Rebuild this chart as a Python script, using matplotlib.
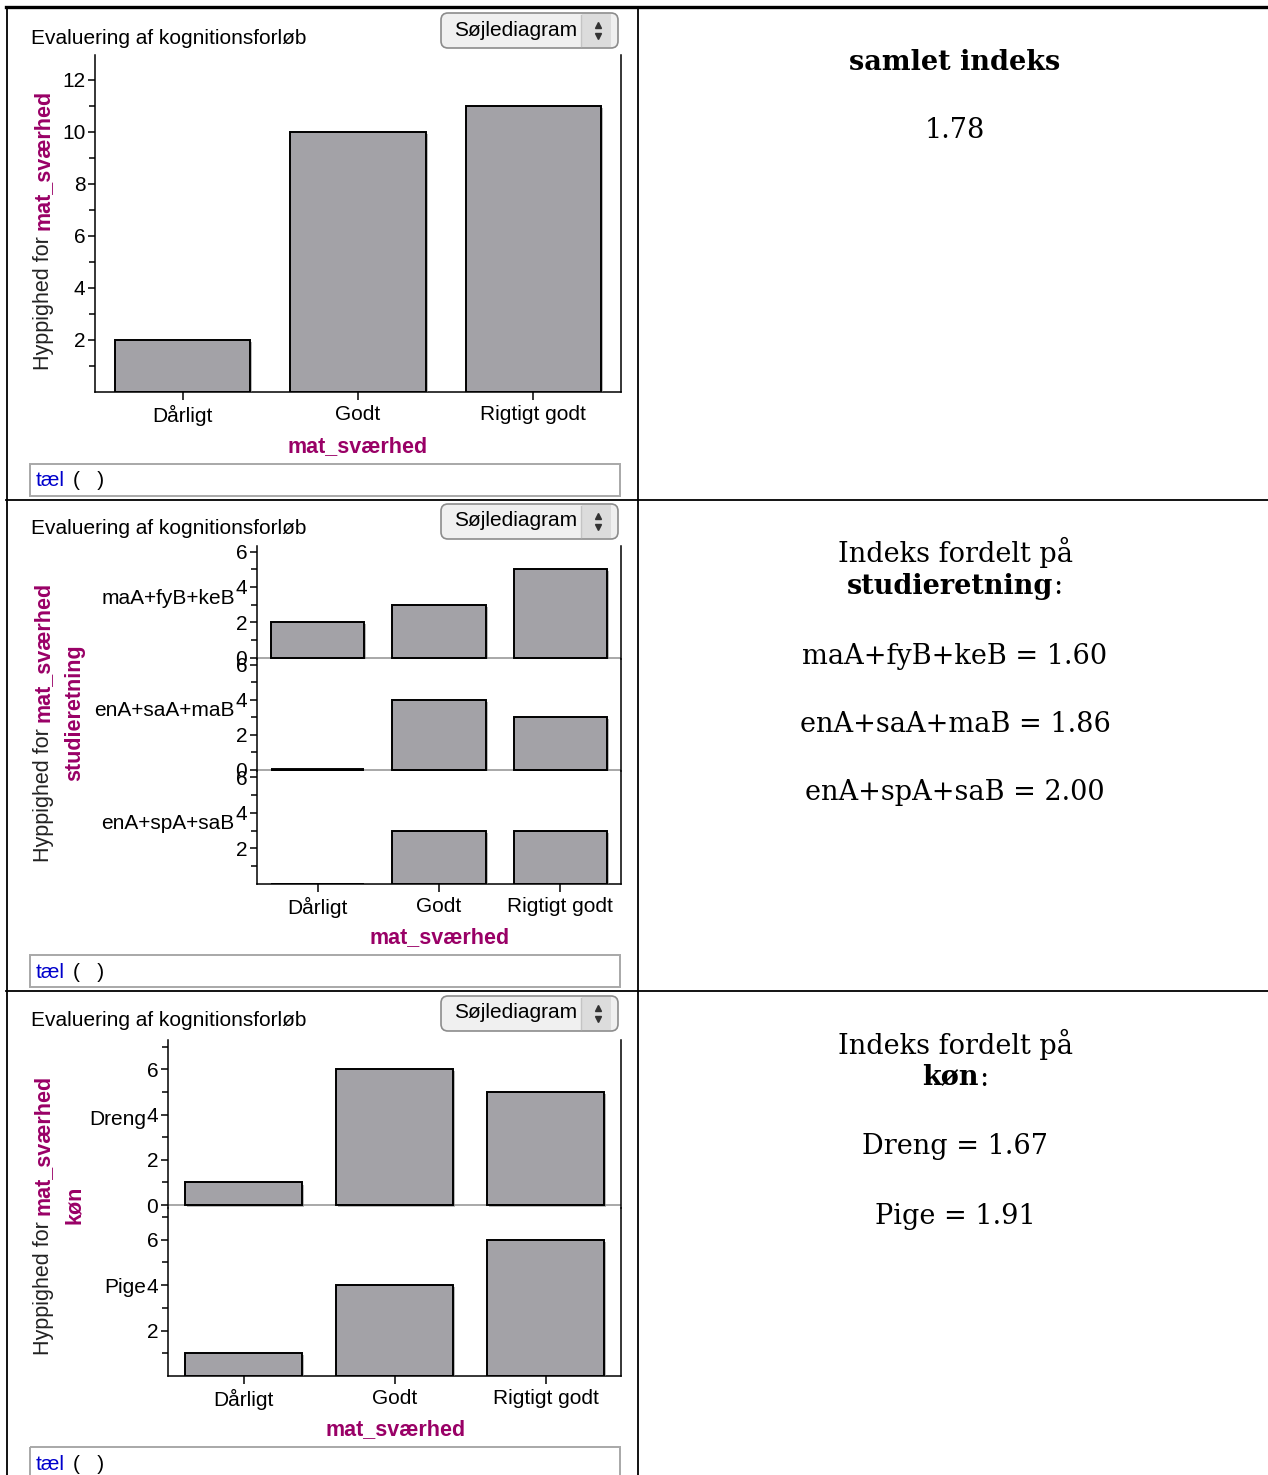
import numpy as np
import matplotlib
matplotlib.use("Agg")
import matplotlib.pyplot as plt
from matplotlib import patheffects as pe
from matplotlib.patches import FancyBboxPatch, Rectangle

categories = ["Dårligt", "Godt", "Rigtigt godt"]
counts_all = [2, 10, 11]
study_lines = ["maA+fyB+keB", "enA+saA+maB", "enA+spA+saB"]
counts_study = [[2, 3, 5], [0, 4, 3], [0, 3, 3]]
genders = ["Dreng", "Pige"]
counts_gender = [[1, 6, 5], [1, 4, 6]]
index_all = 1.78
index_study = [1.60, 1.86, 2.00]
index_gender = [1.67, 1.91]

W, H, DPI = 1268, 1475, 100
PURPLE = "#990066"
BAR_GREY = "#a3a2a7"
SERIF = "DejaVu Serif"
FS = 15
LBL = 15.5
plt.rcParams["font.family"] = "Liberation Sans"

fig = plt.figure(figsize=(W / DPI, H / DPI), dpi=DPI)
ov = fig.add_axes([0, 0, 1, 1])
ov.set_xlim(0, W)
ov.set_ylim(H, 0)
ov.axis("off")
renderer = fig.canvas.get_renderer()


def px_axes(x0, y0, x1, y1):
    ax = fig.add_axes([x0 / W, 1 - y1 / H, (x1 - x0) / W, (y1 - y0) / H])
    ax.patch.set_visible(False)
    return ax


def bar_block(ax, counts, ylim, bottom, show_zero, group=None):
    x = np.arange(len(categories))
    bars = ax.bar(x, counts, width=0.77, color=BAR_GREY, edgecolor="black",
                  linewidth=1.4, zorder=3)
    for b, c in zip(bars, counts):
        b.set_path_effects([pe.SimplePatchShadow(offset=(1.5, -1.5), shadow_rgbFace="#777777", alpha=0.5),
                            pe.Normal()])
        if c == 0 and not bottom:
            b.set_linewidth(2.8)
    ax.set_xlim(-0.5, len(categories) - 0.5)
    ax.set_ylim(*ylim)
    top = int(ylim[1])
    major = [v for v in range(0, top + 1, 2) if v > 0 or show_zero]
    ax.set_yticks(major)
    ax.set_yticks(list(range(1, top + 1, 2)), minor=True)
    ax.tick_params(axis="y", which="major", direction="out", length=5, width=1.1, labelsize=FS, pad=2)
    ax.tick_params(axis="y", which="minor", direction="out", length=4, width=1.1)
    ax.spines["top"].set_visible(False)
    for s in ("left", "right", "bottom"):
        ax.spines[s].set_linewidth(1.1)
    if bottom:
        ax.set_xticks(x, categories)
        ax.tick_params(axis="x", length=6, width=1.1, labelsize=FS, pad=3)
    else:
        ax.spines["bottom"].set_visible(False)
        ax.set_xticks([])
        ax.axhline(0, color="#9a9a9a", lw=1.2, zorder=1)
    if group is not None:
        ax.annotate(group, xy=(0, 0.5), xycoords="axes fraction", xytext=(-16, 3),
                    textcoords="offset points", ha="right", va="center", fontsize=FS)


def dropdown(y0):
    ov.add_patch(FancyBboxPatch((441, y0), 177, 35, boxstyle="round,pad=0,rounding_size=7",
                                fc="#f0f0f0", ec="#8c8c8c", lw=1.2))
    ov.add_patch(Rectangle((582, y0 + 1), 29, 33, fc="#dcdcdc", ec="none"))
    ov.plot([581, 581], [y0 + 2, y0 + 33], color="#c4c4c4", lw=1)
    ov.text(454, y0 + 17, "Søjlediagram", fontsize=FS, va="center")
    ov.plot([598], [y0 + 12], marker="^", ms=5, color="#333333")
    ov.plot([598], [y0 + 23], marker="v", ms=5, color="#333333")


def ylabel_parts(x, y_bottom, parts, size=LBL):
    y = y_bottom
    for s, color, w in parts:
        t = ov.text(x, y, s, rotation=90, rotation_mode="anchor", ha="left", va="baseline",
                    color=color, fontweight=w, fontsize=size)
        y -= t.get_window_extent(renderer).height + 6


def panel_frame(oy, xlabel_x, ylabel_bottom, group_label=None, group_y=None):
    ov.text(31, oy + 38, "Evaluering af kognitionsforløb", fontsize=FS, va="center")
    dropdown(oy + 13)
    ov.text(xlabel_x, oy + 447, "mat_sværhed", fontsize=LBL, fontweight="bold",
            color=PURPLE, ha="center", va="center")
    ylabel_parts(49, ylabel_bottom, [("Hyppighed for", "#222222", "normal"),
                                     ("mat_sværhed", PURPLE, "bold")])
    if group_label:
        ov.text(80, group_y, group_label, rotation=90, rotation_mode="anchor", ha="center",
                va="baseline", color=PURPLE, fontweight="bold", fontsize=LBL)
    ov.add_patch(Rectangle((30, oy + 464), 590, 32, fill=False, ec="#a8a8a8", lw=1.4))
    ov.text(36, oy + 481, "tæl", color="#0000cc", fontsize=FS, va="center")
    ov.text(73, oy + 481, "(   )", color="black", fontsize=FS, va="center")


def centered_line(parts, y, cx=955, size=19.5):
    texts = []
    total = 0
    for s, w in parts:
        t = ov.text(0, y, s, fontsize=size, fontweight=w, family=SERIF, va="center", ha="left")
        width = t.get_window_extent(renderer).width
        texts.append((t, width))
        total += width
    x = cx - total / 2
    for t, width in texts:
        t.set_x(x)
        x += width


# table grid
ov.plot([6, W], [7, 7], color="black", lw=2.4)
ov.plot([7, 7], [7, H], color="black", lw=1.3)
ov.plot([638, 638], [7, H], color="black", lw=1.3)
ov.plot([6, W], [500, 500], color="black", lw=1.3)
ov.plot([6, W], [991, 991], color="black", lw=1.3)

# panel 1: all students
ax1 = px_axes(95, 55, 621, 392)
bar_block(ax1, counts_all, (0, 12.96), bottom=True, show_zero=False)
panel_frame(0, 358, 370)

# panel 2: by study line
edges2 = [546, 659, 771, 884]
for i, (name, cnt) in enumerate(zip(study_lines, counts_study)):
    ax = px_axes(257, edges2[i], 621, edges2[i + 1])
    last = i == len(study_lines) - 1
    bar_block(ax, cnt, (0, 6.35) if last else (-0.08, 6.32), bottom=last,
              show_zero=not last, group=name)
panel_frame(491, 440, 862, "studieretning", 713)

# panel 3: by gender
edges3 = [1040, 1208, 1376]
for i, (name, cnt) in enumerate(zip(genders, counts_gender)):
    ax = px_axes(168, edges3[i], 621, edges3[i + 1])
    last = i == len(genders) - 1
    bar_block(ax, cnt, (0, 7.4) if last else (-0.13, 7.3), bottom=last,
              show_zero=not last, group=name)
panel_frame(983, 396, 1355, "køn", 1205)

# right column
centered_line([("samlet indeks", "bold")], 62)
centered_line([(f"{index_all:.2f}", "normal")], 130)

centered_line([("Indeks fordelt på", "normal")], 552)
centered_line([("studieretning", "bold"), (":", "normal")], 587)
for k, (name, val) in enumerate(zip(study_lines, index_study)):
    centered_line([(f"{name} = {val:.2f}", "normal")], 656 + k * 68.5)

centered_line([("Indeks fordelt på", "normal")], 1044)
centered_line([("køn", "bold"), (":", "normal")], 1078)
for k, (name, val) in enumerate(zip(genders, index_gender)):
    centered_line([(f"{name} = {val:.2f}", "normal")], 1147 + k * 69)

fig.savefig("out.png", dpi=DPI)
